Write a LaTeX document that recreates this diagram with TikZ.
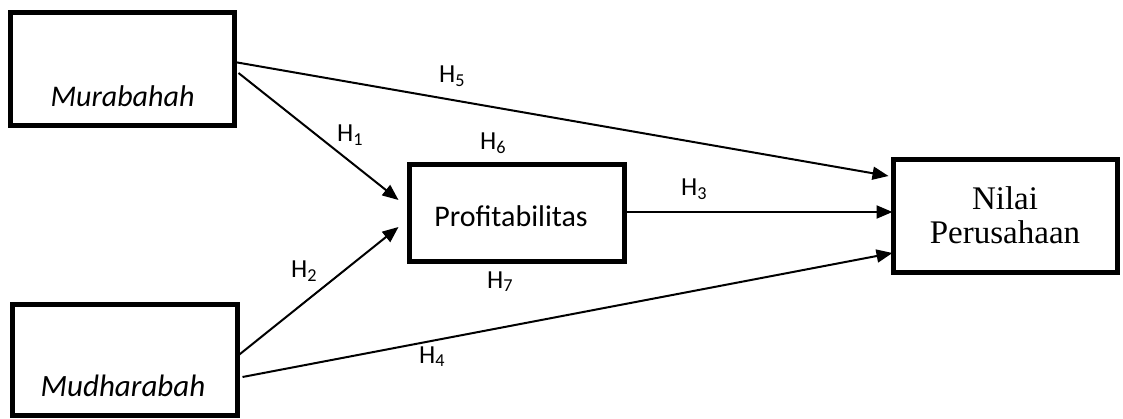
\documentclass[tikz,border=0pt]{standalone}
\usepackage{fontspec}
\setmainfont{Carlito}
\newfontfamily\serifnil{Liberation Serif}
\usetikzlibrary{arrows.meta}
\tikzset{
  box/.style={draw, line width=5.5pt, inner sep=0pt, outer sep=0pt, fill=white},
  txt/.style={inner sep=0pt, font=\fontsize{30}{34}\selectfont},
  hlab/.style={inner sep=0pt, anchor=base west, font=\fontsize{26}{30}\selectfont},
  arr/.style={line width=2pt, -{Triangle[length=16pt,width=13pt]}},
}
\newcommand{\hyp}[1]{H\textsubscript{#1}}
\begin{document}
\begin{tikzpicture}[x=1pt,y=-1pt]
\useasboundingbox (0,0) rectangle (1123,419);
\node[box, minimum width=224pt, minimum height=113pt] (mur) at (122.5,69) {};
\node[box, minimum width=225pt, minimum height=111pt] (mud) at (125,360) {};
\node[box, minimum width=215pt, minimum height=97pt] (prof) at (517,213) {};
\node[box, minimum width=224pt, minimum height=113pt] (nil) at (1005.5,216) {};
\node[txt, anchor=base] (murt) at (122.5,107) {\itshape Murabahah};
\node[txt, anchor=base, font=\fontsize{31}{35}\selectfont] (mudt) at (123,396) {\itshape Mudharabah};
\node[txt, anchor=base] (proft) at (511,227) {Profitabilitas};
\node[txt, anchor=base, font=\serifnil\fontsize{33}{37}\selectfont] (nilt1) at (1005,210) {Nilai};
\node[txt, anchor=base, font=\serifnil\fontsize{33}{37}\selectfont] (nilt2) at (1005,244) {Perusahaan};
\draw[arr] ([yshift=7pt]mur.east) -- ([xshift=-5pt,yshift=40pt]nil.west);
\draw[arr] ([xshift=4pt,yshift=-4pt]mur.east) -- ([xshift=-11pt,yshift=13pt]prof.west);
\draw[arr] ([yshift=4pt]mud.east) -- ([xshift=-11pt,yshift=-14pt]prof.west);
\draw[arr] ([xshift=5pt,yshift=-17pt]mud.east) -- ([xshift=-1pt,yshift=-37pt]nil.west);
\draw[arr] ([xshift=2pt,yshift=1pt]prof.east) -- ([xshift=-1pt,yshift=4pt]nil.west);
\node[hlab] (h5) at (439,83) {\hyp{5}};
\node[hlab] (h1) at (337,142) {\hyp{1}};
\node[hlab] (h6) at (480,150) {\hyp{6}};
\node[hlab] (h3) at (681,196) {\hyp{3}};
\node[hlab] (h2) at (291,278) {\hyp{2}};
\node[hlab] (h7) at (487,288) {\hyp{7}};
\node[hlab] (h4) at (419,363) {\hyp{4}};
\end{tikzpicture}
\end{document}
